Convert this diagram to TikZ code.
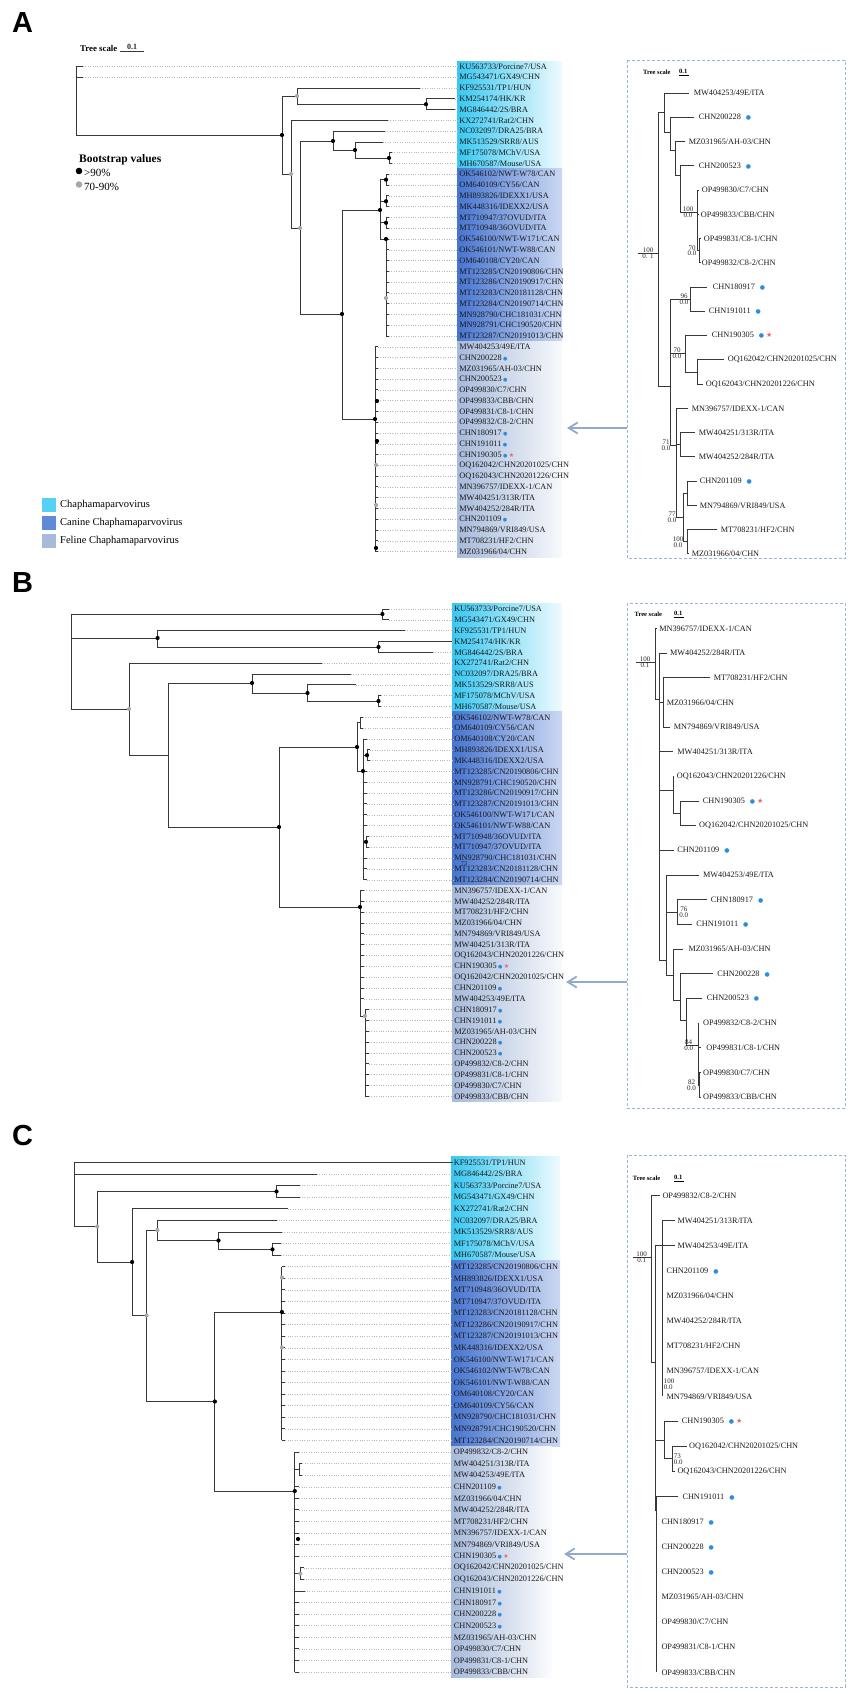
\documentclass[tikz,border=0pt]{standalone}
\usepackage{fontspec}
\setmainfont{Liberation Serif}
\setsansfont{Liberation Sans}
\newfontfamily\symbfont{DejaVu Sans}
\usepackage{tikz}
\usetikzlibrary{arrows.meta,shapes,positioning}

\definecolor{chapha}{HTML}{38C8F2}
\definecolor{canine}{HTML}{4674D0}
\definecolor{feline}{HTML}{A6BADA}
\definecolor{branchgray}{HTML}{383838}
\definecolor{bootgray}{HTML}{A8A8A8}
\definecolor{markblue}{HTML}{2C8CE0}
\definecolor{markred}{HTML}{E8666C}
\definecolor{framecol}{HTML}{9CB4D6}
\definecolor{pointcol}{HTML}{93AACC}

\tikzstyle{br} = [draw=branchgray, line width=0.9pt]
\tikzstyle{leader} = [draw=black!28, line width=0.5pt, dash pattern=on 0.9pt off 1.5pt]
\tikzstyle{lab} = [anchor=west, inner sep=0.6pt, text=black!90, font=\fontsize{8.3}{8.3}\selectfont]
\tikzstyle{ilab} = [anchor=west, inner sep=0.6pt, text=black!90, font=\fontsize{8.25}{8.25}\selectfont]
\tikzstyle{bsv} = [inner sep=0.4pt, text=black!85, font=\fontsize{7}{7}\selectfont]
\tikzstyle{frame} = [draw=framecol, line width=0.8pt, dash pattern=on 3pt off 2pt]
\tikzstyle{pointer} = [draw=pointcol, line width=1.8pt, -{Straight Barb[length=9pt,width=11pt]}]
\tikzstyle{panel} = [inner sep=0, font=\fontsize{29}{29}\sffamily\bfseries\selectfont]
\tikzstyle{scl} = [anchor=west, inner sep=0, font=\fontsize{6.5}{6.5}\bfseries\selectfont]
\tikzstyle{legtxt} = [anchor=west, inner sep=0, font=\fontsize{10.5}{10.5}\selectfont]

\newcommand{\bdot}{\,{\symbfont\fontsize{5}{5}\selectfont\textcolor{markblue}{●}}}
\newcommand{\rstar}{\,{\symbfont\fontsize{6}{6}\selectfont\textcolor{markred}{★}}}
\newcommand{\idot}{\hspace{5pt}{\symbfont\fontsize{6}{6}\selectfont\textcolor{markblue}{●}}}
\newcommand{\istar}{\hspace{2pt}{\symbfont\fontsize{7}{7}\selectfont\textcolor{markred}{★}}}
\newcommand{\bsb}[1]{\fill[black] #1 circle (2.1pt);}
\newcommand{\bsg}[1]{\fill[bootgray] #1 circle (2.1pt);}
\newcommand{\bsl}[5]{\node[bsv, anchor=south] (#1t) at (#2,#3) {#4};
  \node[bsv, anchor=north] (#1b) at (#2,#3) {#5};}

\begin{document}
\begin{tikzpicture}[x=1pt, y=-1pt,
  declare function={ra(\i)=66.5+(\i-1)*10.78; rb(\i)=609+(\i-1)*10.83;
    rc(\i)=1162.5+(\i-1)*11.58; ia(\i)=93+(\i-1)*24.26;
    ib(\i)=628.4+(\i-1)*24.67; ic(\i)=1195.6+(\i-1)*25.09;}]
  \useasboundingbox (0,0) rectangle (851,1694);

  % Panel letters
  \node[panel] (pA) at (22.5,22.5) {A};
  \node[panel] (pB) at (22.5,583) {B};
  \node[panel] (pC) at (22.5,1136) {C};

  %%%%%%%%%%%%%%%% Panel A %%%%%%%%%%%%%%%%
  % scale and legends
  \node[scl, font=\fontsize{8.8}{8.8}\bfseries\selectfont] (tsA) at (80,48) {Tree scale};
  \node[bsv, font=\fontsize{8}{8}\bfseries\selectfont, anchor=south] (tsAv) at (132,50) {0.1};
  \draw[branchgray, line width=0.9pt] (120,51) -- (144,51);
  \node[anchor=west, inner sep=0, font=\fontsize{11.5}{11.5}\bfseries\selectfont] (bsh) at (79,160) {Bootstrap values};
  \fill[black] (79,171) circle (3.3pt);
  \node[legtxt, font=\fontsize{11}{11}\selectfont] (bs1) at (84,172.5) {>90\%};
  \fill[bootgray] (79,184.5) circle (3.3pt);
  \node[legtxt, font=\fontsize{11}{11}\selectfont] (bs2) at (84,186.5) {70-90\%};
  \fill[chapha!85] (42,498) rectangle (56,512);
  \node[legtxt] (lg1) at (60,505) {Chaphamaparvovirus};
  \fill[canine!85] (42,516) rectangle (56,529.5);
  \node[legtxt] (lg2) at (60,522.7) {Canine Chaphamaparvovirus};
  \fill[feline] (42,534) rectangle (56,547.5);
  \node[legtxt] (lg3) at (60,540.7) {Feline Chaphamaparvovirus};

  % label blocks
  \shade[left color=chapha, right color=chapha!8] (457,{ra(1)-5.4}) rectangle (562,{ra(10)+5.4});
  \shade[left color=canine, right color=canine!28] (457,{ra(11)-5.4}) rectangle (562,{ra(26)+5.4});
  \shade[left color=feline, right color=feline!8] (457,{ra(27)-5.4}) rectangle (562,{ra(46)+5.4});
  \foreach \t [count=\i] in {KU563733/Porcine7/USA, MG543471/GX49/CHN, KF925531/TP1/HUN,
      KM254174/HK/KR, MG846442/2S/BRA, KX272741/Rat2/CHN, NC032097/DRA25/BRA,
      MK513529/SRR8/AUS, MF175078/MChV/USA, MH670587/Mouse/USA, OK546102/NWT-W78/CAN,
      OM640109/CY56/CAN, MH893826/IDEXX1/USA, MK448316/IDEXX2/USA, MT710947/37OVUD/ITA,
      MT710948/36OVUD/ITA, OK546100/NWT-W171/CAN, OK546101/NWT-W88/CAN, OM640108/CY20/CAN,
      MT123285/CN20190806/CHN, MT123286/CN20190917/CHN, MT123283/CN20181128/CHN,
      MT123284/CN20190714/CHN, MN928790/CHC181031/CHN, MN928791/CHC190520/CHN,
      MT123287/CN20191013/CHN, MW404253/49E/ITA, CHN200228\bdot, MZ031965/AH-03/CHN,
      CHN200523\bdot, OP499830/C7/CHN, OP499833/CBB/CHN, OP499831/C8-1/CHN,
      OP499832/C8-2/CHN, CHN180917\bdot, CHN191011\bdot, CHN190305\bdot\rstar,
      OQ162042/CHN20201025/CHN, OQ162043/CHN20201226/CHN, MN396757/IDEXX-1/CAN,
      MW404251/313R/ITA, MW404252/284R/ITA, CHN201109\bdot, MN794869/VRI849/USA,
      MT708231/HF2/CHN, MZ031966/04/CHN}
    \node[lab] (la\i) at (458.5,{ra(\i)}) {\t};
  \foreach \i/\x in {1/83,2/83,3/420,4/455,5/455,6/388,7/385,8/383,9/392,10/392}
    \draw[leader] (\x,{ra(\i)}) -- (la\i.west);
  \foreach \i in {11,...,26} \draw[leader] (389,{ra(\i)}) -- (la\i.west);
  \foreach \i in {27,...,46} \draw[leader] (378,{ra(\i)}) -- (la\i.west);

  % tree
  \draw[br] (83,{ra(1)}) -- (76,{ra(1)}) -- (76,135) -- (282,135);
  \draw[br] (76,{ra(2)}) -- (83,{ra(2)});
  \draw[br] (297,96) -- (282,96) -- (282,174) -- (291,174);
  \draw[br] (420,{ra(3)}) -| (297,104.2) -- (426,104.2);
  \draw[br] (455,{ra(4)}) -| (426,{ra(5)}) -- (455,{ra(5)});
  \draw[br] (388,{ra(6)}) -| (291,228) -- (300,228);
  \draw[br] (333,141) -- (300,141) -- (300,314) -- (342,314);
  \draw[br] (385,{ra(7)}) -| (333,150) -- (355,150);
  \draw[br] (383,{ra(8)}) -| (355,158) -- (389,158);
  \draw[br] (392,{ra(9)}) -| (389,{ra(10)}) -- (392,{ra(10)});
  \draw[br] (380,210) -| (342,419) -- (375,419);
  % canine clade
  \draw[br] (380,{(ra(11)+ra(12))/2}) -- (380,{ra(17)}) -- (386,{ra(17)}) -- (386,{ra(26)});
  \foreach \j in {11,13,15} {
    \draw[br] (380,{(ra(\j)+ra(\j+1))/2}) -- (386,{(ra(\j)+ra(\j+1))/2});
    \draw[br] (389,{ra(\j)}) -| (386,{ra(\j+1)}) -- (389,{ra(\j+1)});
    \bsb{(386,{(ra(\j)+ra(\j+1))/2})}
  }
  \foreach \j in {17,...,26} \draw[br] (386,{ra(\j)}) -- (389,{ra(\j)});
  % feline clade
  \draw[br] (375,{ra(27)}) -- (375,{ra(46)});
  \foreach \j in {27,...,46} \draw[br] (375,{ra(\j)}) -- (378,{ra(\j)});
  % bootstrap dots
  \bsb{(282,135)} \bsg{(297,96)} \bsb{(426,104.2)} \bsg{(291,174)} \bsg{(300,228)}
  \bsb{(333,141)} \bsb{(355,150)} \bsb{(389,158)} \bsb{(342,314)} \bsb{(380,210)}
  \bsb{(375,419)} \bsb{(386,{ra(17)})} \bsg{(386,298)}
  \bsb{(377,401)} \bsb{(377,441)} \bsg{(376,465)} \bsg{(376,505)} \bsb{(376,548)}

  % inset A
  \draw[frame] (627,60) rectangle (845,558.5);
  \node[scl] (tsa) at (643,72) {Tree scale};
  \node[scl] (tsav) at (679,71) {0.1};
  \draw[black, line width=0.6pt] (679,75) -- (689,75);
  \foreach \x/\t [count=\i] in {693/{MW404253/49E/ITA}, 698/{CHN200228\idot},
      688/{MZ031965/AH-03/CHN}, 698/{CHN200523\idot}, 701/{OP499830/C7/CHN},
      700/{OP499833/CBB/CHN}, 703/{OP499831/C8-1/CHN}, 701/{OP499832/C8-2/CHN},
      712/{CHN180917\idot}, 708/{CHN191011\idot}, 711/{CHN190305\idot\istar},
      727/{OQ162042/CHN20201025/CHN}, 705/{OQ162043/CHN20201226/CHN},
      691/{MN396757/IDEXX-1/CAN}, 698/{MW404251/313R/ITA}, 698/{MW404252/284R/ITA},
      699/{CHN201109\idot}, 699/{MN794869/VRI849/USA}, 720/{MT708231/HF2/CHN},
      691/{MZ031966/04/CHN}}
    \node[ilab] (sa\i) at (\x,{ia(\i)}) {\t};
  \draw[br] (638,253) -- (658,253);
  \draw[br] (664,112) -- (658,112) -- (658,386) -- (670,386);
  \draw[br] (689,{ia(1)}) -| (664,132) -- (670,132);
  \draw[br] (694,{ia(2)}) -| (670,150) -- (675,150);
  \draw[br] (685,{ia(3)}) -| (675,175) -- (680,175);
  \draw[br] (694,{ia(4)}) -| (680,212) -- (697.5,212);
  \draw[br] (699,{ia(5)}) -| (697.5,250.7) -- (699.5,250.7);
  \draw[br] (697.5,{ia(6)}) -- (699,{ia(6)});
  \draw[br] (700,{ia(7)}) -| (699.5,{ia(8)}) -- (700,{ia(8)});
  \draw[br] (707,{ia(9)}) -| (690,{ia(10)}) -- (705,{ia(10)});
  \draw[br] (690,299.2) -- (670,299.2) -- (670,445) -- (676,445);
  \draw[br] (670,353) -- (685,353);
  \draw[br] (707,{ia(11)}) -| (685,372) -- (697,372);
  \draw[br] (724,{ia(12)}) -| (697,{ia(13)}) -- (703,{ia(13)});
  \draw[br] (688,{ia(14)}) -| (676,517) -- (683,517);
  \draw[br] (676,444.8) -- (680,444.8);
  \draw[br] (695,{ia(15)}) -| (680,{ia(16)}) -- (695,{ia(16)});
  \draw[br] (687,493.3) -| (683,541.8) -- (687,541.8);
  \draw[br] (697,{ia(17)}) -| (687,{ia(18)}) -- (697,{ia(18)});
  \draw[br] (717,{ia(19)}) -| (687,{ia(20)}) -- (689,{ia(20)});
  \bsl{a1}{648}{253}{100}{0. 1}
  \bsl{a2}{688}{212}{100}{0.0}
  \bsl{a3}{692}{250.7}{70}{0.0}
  \bsl{a4}{684}{299.2}{96}{0.0}
  \bsl{a5}{677}{353}{70}{0.0}
  \bsl{a6}{666}{445}{71}{0.0}
  \bsl{a7}{672}{517}{77}{0.0}
  \bsl{a8}{678}{541.8}{100}{0.0}
  \coordinate (fa) at (627,428);
  \coordinate (ta) at (567,428);
  \draw[pointer] (fa) -- (ta);

  %%%%%%%%%%%%%%%% Panel B %%%%%%%%%%%%%%%%
  \shade[left color=chapha, right color=chapha!8] (452,{rb(1)-5.4}) rectangle (562,{rb(10)+5.4});
  \shade[left color=canine, right color=canine!28] (452,{rb(11)-5.4}) rectangle (562,{rb(26)+5.4});
  \shade[left color=feline, right color=feline!8] (452,{rb(27)-5.4}) rectangle (562,{rb(46)+5.4});
  \foreach \t [count=\i] in {KU563733/Porcine7/USA, MG543471/GX49/CHN, KF925531/TP1/HUN,
      KM254174/HK/KR, MG846442/2S/BRA, KX272741/Rat2/CHN, NC032097/DRA25/BRA,
      MK513529/SRR8/AUS, MF175078/MChV/USA, MH670587/Mouse/USA, OK546102/NWT-W78/CAN,
      OM640109/CY56/CAN, OM640108/CY20/CAN, MH893826/IDEXX1/USA, MK448316/IDEXX2/USA,
      MT123285/CN20190806/CHN, MN928791/CHC190520/CHN, MT123286/CN20190917/CHN,
      MT123287/CN20191013/CHN, OK546100/NWT-W171/CAN, OK546101/NWT-W88/CAN,
      MT710948/36OVUD/ITA, MT710947/37OVUD/ITA, MN928790/CHC181031/CHN,
      MT123283/CN20181128/CHN, MT123284/CN20190714/CHN, MN396757/IDEXX-1/CAN,
      MW404252/284R/ITA, MT708231/HF2/CHN, MZ031966/04/CHN, MN794869/VRI849/USA,
      MW404251/313R/ITA, OQ162043/CHN20201226/CHN, CHN190305\bdot\rstar,
      OQ162042/CHN20201025/CHN, CHN201109\bdot, MW404253/49E/ITA, CHN180917\bdot,
      CHN191011\bdot, MZ031965/AH-03/CHN, CHN200228\bdot, CHN200523\bdot,
      OP499832/C8-2/CHN, OP499831/C8-1/CHN, OP499830/C7/CHN, OP499833/CBB/CHN}
    \node[lab] (lb\i) at (453.5,{rb(\i)}) {\t};
  \node[bsv, font=\fontsize{6}{6}\selectfont] (stray) at (464,{rb(25)-5}) {73};
  \foreach \i/\x in {1/389,2/389,3/405,4/452,5/433,6/322,7/351,8/356,9/381.4,10/381.4,
      11/363,12/363,13/367,14/370,15/370,22/369,23/369}
    \draw[leader] (\x,{rb(\i)}) -- (lb\i.west);
  \foreach \i in {16,...,21,24,25,26} \draw[leader] (367,{rb(\i)}) -- (lb\i.west);
  \foreach \i in {27,...,37} \draw[leader] (364,{rb(\i)}) -- (lb\i.west);
  \foreach \i in {38,...,46} \draw[leader] (369,{rb(\i)}) -- (lb\i.west);

  % tree
  \draw[br] (382.4,614) -- (71,614) -- (71,709) -- (129,709);
  \draw[br] (389,{rb(1)}) -| (382.4,{rb(2)}) -- (389,{rb(2)});
  \draw[br] (71,638) -- (157.6,638);
  \draw[br] (405,{rb(3)}) -| (157.6,647) -- (378.5,647);
  \draw[br] (452,{rb(4)}) -| (378.5,{rb(5)}) -- (433,{rb(5)});
  \draw[br] (322,{rb(6)}) -| (129,755) -- (168.3,755);
  \draw[br] (252,683) -| (168.3,827) -- (279,827);
  \draw[br] (351,{rb(7)}) -| (252,693) -- (307.5,693);
  \draw[br] (356,{rb(8)}) -| (307.5,701) -- (378.5,701);
  \draw[br] (381.4,{rb(9)}) -| (378.5,{rb(10)}) -- (381.4,{rb(10)});
  \draw[br] (357,747) -| (279,907) -- (360,907);
  % canine clade
  \draw[br] (360,{(rb(11)+rb(12))/2}) -- (357,{(rb(11)+rb(12))/2}) -- (357,771) -- (363,771);
  \draw[br] (363,{rb(11)}) -| (360,{rb(12)}) -- (363,{rb(12)});
  \draw[br] (363,{rb(13)}) -- (363,{rb(26)});
  \foreach \j in {13,16,17,...,21,24,25,26} \draw[br] (363,{rb(\j)}) -- (367,{rb(\j)});
  \draw[br] (363,{(rb(14)+rb(15))/2}) -- (367,{(rb(14)+rb(15))/2});
  \draw[br] (370,{rb(14)}) -| (367,{rb(15)}) -- (370,{rb(15)});
  \draw[br] (363,{(rb(22)+rb(23))/2}) -- (366,{(rb(22)+rb(23))/2});
  \draw[br] (369,{rb(22)}) -| (366,{rb(23)}) -- (369,{rb(23)});
  % feline clade
  \draw[br] (360,{rb(27)}) -- (360,1016) -- (365,1016);
  \foreach \j in {27,...,37} \draw[br] (360,{rb(\j)}) -- (364,{rb(\j)});
  \draw[br] (365,{rb(38)}) -- (365,{rb(46)});
  \foreach \j in {38,...,46} \draw[br] (365,{rb(\j)}) -- (369,{rb(\j)});
  % bootstrap dots
  \bsb{(382.4,614)} \bsb{(157.6,638)} \bsb{(378.5,647)} \bsg{(129,709)} \bsb{(252,683)}
  \bsb{(307.5,693)} \bsb{(378.5,701)} \bsb{(279,827)} \bsb{(357,747)} \bsb{(360,907)}
  \bsb{(363,771)} \bsb{(367,{(rb(14)+rb(15))/2})} \bsb{(366,{(rb(22)+rb(23))/2})}
  \bsg{(365,1016)}

  % inset B
  \draw[frame] (627,603) rectangle (845,1108);
  \node[scl] (tsb) at (634.5,614) {Tree scale};
  \node[scl] (tsbv) at (674,613) {0.1};
  \draw[black, line width=0.6pt] (674,617) -- (684,617);
  \foreach \x/\t [count=\i] in {658.5/{MN396757/IDEXX-1/CAN}, 669.2/{MW404252/284R/ITA},
      713/{MT708231/HF2/CHN}, 666/{MZ031966/04/CHN}, 673.1/{MN794869/VRI849/USA},
      676.6/{MW404251/313R/ITA}, 676/{OQ162043/CHN20201226/CHN},
      702/{CHN190305\idot\istar}, 698.4/{OQ162042/CHN20201025/CHN},
      676.6/{CHN201109\idot}, 702.3/{MW404253/49E/ITA}, 710.1/{CHN180917\idot},
      695.5/{CHN191011\idot}, 687.7/{MZ031965/AH-03/CHN}, 716.6/{CHN200228\idot},
      706/{CHN200523\idot}, 702.3/{OP499832/C8-2/CHN}, 705.6/{OP499831/C8-1/CHN},
      702.3/{OP499830/C7/CHN}, 702.3/{OP499833/CBB/CHN}}
    \node[ilab] (sb\i) at (\x,{ib(\i)}) {\t};
  \draw[br] (636.2,662) -- (655.6,662);
  \draw[br] (657.1,{ib(1)}) -- (655.6,{ib(1)}) -- (655.6,699) -- (659.9,699);
  \draw[br] (666.9,{ib(2)}) -- (659.9,{ib(2)}) -- (659.9,960) -- (666.9,960);
  \draw[br] (710.1,{ib(3)}) -| (663.1,{ib(5)}) -- (670,{ib(5)});
  \draw[br] (659.9,{ib(4)}) -- (664.1,{ib(4)});
  \draw[br] (659.9,{ib(6)}) -- (673.1,{ib(6)});
  \draw[br] (659.9,790) -- (673.1,790);
  \draw[br] (674,{ib(7)}) -| (673.1,813) -- (680,813);
  \draw[br] (699.4,{ib(8)}) -| (680,{ib(9)}) -- (695.5,{ib(9)});
  \draw[br] (659.9,{ib(10)}) -- (674,{ib(10)});
  \draw[br] (699.4,{ib(11)}) -| (666.9,975) -- (673.1,975);
  \draw[br] (666.9,912.1) -- (677.5,912.1);
  \draw[br] (707.2,{ib(12)}) -| (677.5,{ib(13)}) -- (692.4,{ib(13)});
  \draw[br] (682.9,{ib(14)}) -| (673.1,1000) -- (680,1000);
  \draw[br] (713,{ib(15)}) -| (680,1020) -- (686.8,1020);
  \draw[br] (702.3,{ib(16)}) -| (686.8,1045) -- (698.4,1045);
  \draw[br] (699.4,{ib(17)}) -| (698.4,1085) -- (699.4,1085);
  \draw[br] (698.4,{ib(18)}) -- (701.3,{ib(18)});
  \draw[br] (701.3,{ib(19)}) -| (699.4,{ib(20)}) -- (701.3,{ib(20)});
  \bsl{b1}{645}{662}{100}{0.1}
  \bsl{b2}{683.8}{912.1}{76}{0.0}
  \bsl{b3}{688.7}{1045}{84}{0.0}
  \bsl{b4}{691.6}{1085}{82}{0.0}
  \coordinate (fb) at (627,982);
  \coordinate (tb) at (566,982);
  \draw[pointer] (fb) -- (tb);

  %%%%%%%%%%%%%%%% Panel C %%%%%%%%%%%%%%%%
  \shade[left color=chapha, right color=chapha!8] (451,{rc(1)-5.8}) rectangle (560,{rc(9)+5.8});
  \shade[left color=canine, right color=canine!28] (451,{rc(10)-5.8}) rectangle (560,{rc(25)+5.8});
  \shade[left color=feline, right color=feline!4] (451,{rc(26)-5.8}) rectangle (552,{rc(45)+5.8});
  \foreach \t [count=\i] in {KF925531/TP1/HUN, MG846442/2S/BRA, KU563733/Porcine7/USA,
      MG543471/GX49/CHN, KX272741/Rat2/CHN, NC032097/DRA25/BRA, MK513529/SRR8/AUS,
      MF175078/MChV/USA, MH670587/Mouse/USA, MT123285/CN20190806/CHN,
      MH893826/IDEXX1/USA, MT710948/36OVUD/ITA, MT710947/37OVUD/ITA,
      MT123283/CN20181128/CHN, MT123286/CN20190917/CHN, MT123287/CN20191013/CHN,
      MK448316/IDEXX2/USA, OK546100/NWT-W171/CAN, OK546102/NWT-W78/CAN,
      OK546101/NWT-W88/CAN, OM640108/CY20/CAN, OM640109/CY56/CAN,
      MN928790/CHC181031/CHN, MN928791/CHC190520/CHN, MT123284/CN20190714/CHN,
      OP499832/C8-2/CHN, MW404251/313R/ITA, MW404253/49E/ITA, CHN201109\bdot,
      MZ031966/04/CHN, MW404252/284R/ITA, MT708231/HF2/CHN, MN396757/IDEXX-1/CAN,
      MN794869/VRI849/USA, CHN190305\bdot\rstar, OQ162042/CHN20201025/CHN,
      OQ162043/CHN20201226/CHN, CHN191011\bdot, CHN180917\bdot, CHN200228\bdot,
      CHN200523\bdot, MZ031965/AH-03/CHN, OP499830/C7/CHN, OP499831/C8-1/CHN,
      OP499833/CBB/CHN}
    \node[lab] (lc\i) at (453,{rc(\i)}) {\t};
  \foreach \i/\x in {2/316.8,3/299.5,4/299.5,5/288,6/276.5,7/281.9,8/280.8,9/280.8,
      27/302.4,28/302.4,36/303.5,37/303.5,38/304.6}
    \draw[leader] (\x,{rc(\i)}) -- (lc\i.west);
  \foreach \i in {10,...,25} \draw[leader] (285.1,{rc(\i)}) -- (lc\i.west);
  \foreach \i in {26,29,30,31,32,33,34,35,39,40,41,42,43,44,45}
    \draw[leader] (299.2,{rc(\i)}) -- (lc\i.west);

  % tree
  \draw[br] (lc1.west) -- (74.8,{rc(1)}) -- (74.8,1226.5) -- (97.2,1226.5);
  \draw[br] (74.8,{rc(2)}) -- (316.8,{rc(2)});
  \draw[br] (276.5,{(rc(3)+rc(4))/2}) -| (97.2,1262) -- (132.1,1262);
  \draw[br] (299.5,{rc(3)}) -| (276.5,{rc(4)}) -- (299.5,{rc(4)});
  \draw[br] (288,{rc(5)}) -| (132.1,1315.5) -- (146.6,1315.5);
  \draw[br] (157.4,1230) -| (146.6,1401.5) -- (214.9,1401.5);
  \draw[br] (276.5,{rc(6)}) -| (157.4,1240.5) -- (218.5,1240.5);
  \draw[br] (281.9,{rc(7)}) -| (218.5,{(rc(8)+rc(9))/2}) -- (272.5,{(rc(8)+rc(9))/2});
  \draw[br] (280.8,{rc(8)}) -| (272.5,{rc(9)}) -- (280.8,{rc(9)});
  \draw[br] (281.9,1312) -| (214.9,1491) -- (294.8,1491);
  % canine clade
  \draw[br] (281.9,{rc(10)}) -- (281.9,{rc(25)});
  \foreach \j in {10,...,25} \draw[br] (281.9,{rc(\j)}) -- (285.1,{rc(\j)});
  % feline clade
  \draw[br] (294.8,{rc(26)}) -- (294.8,{rc(45)});
  \foreach \j in {26,29,30,31,32,33,34,35,39,40,41,42,43,44,45}
    \draw[br] (294.8,{rc(\j)}) -- (299.2,{rc(\j)});
  \draw[br] (294.8,{(rc(27)+rc(28))/2}) -- (299.2,{(rc(27)+rc(28))/2});
  \draw[br] (302.4,{rc(27)}) -| (299.2,{rc(28)}) -- (302.4,{rc(28)});
  \draw[br] (294.8,{(rc(36)+rc(37))/2}) -- (300.2,{(rc(36)+rc(37))/2});
  \draw[br] (303.5,{rc(36)}) -| (300.2,{rc(37)}) -- (303.5,{rc(37)});
  \draw[br] (294.8,{rc(38)}) -- (304.6,{rc(38)});
  % bootstrap dots
  \bsg{(97.2,1226.5)} \bsb{(276.5,{(rc(3)+rc(4))/2})} \bsb{(132.1,1262)} \bsg{(146.6,1315.5)}
  \bsg{(157.4,1230)} \bsb{(218.5,1240.5)} \bsb{(272.5,{(rc(8)+rc(9))/2})}
  \bsb{(214.9,1401.5)} \bsb{(281.9,1312)} \bsg{(281.9,1277.5)} \bsg{(281.9,1347.5)}
  \bsb{(294.8,1491)} \bsb{(298,1539)} \bsg{(300.2,{(rc(36)+rc(37))/2})}

  % inset C
  \draw[frame] (627.3,1155) rectangle (845,1687.3);
  \node[scl] (tsc) at (632.7,1178) {Tree scale};
  \node[scl] (tscv) at (674,1177) {0.1};
  \draw[black, line width=0.6pt] (674,1181) -- (684,1181);
  \foreach \x/\t [count=\i] in {661.7/{OP499832/C8-2/CHN}, 676.7/{MW404251/313R/ITA},
      676.7/{MW404253/49E/ITA}, 665.7/{CHN201109\idot}, 665.7/{MZ031966/04/CHN},
      665.7/{MW404252/284R/ITA}, 665.7/{MT708231/HF2/CHN}, 665.7/{MN396757/IDEXX-1/CAN},
      665.7/{MN794869/VRI849/USA}, 681/{CHN190305\idot\istar},
      688.3/{OQ162042/CHN20201025/CHN}, 676.7/{OQ162043/CHN20201226/CHN},
      681.7/{CHN191011\idot}, 660.7/{CHN180917\idot}, 660.7/{CHN200228\idot},
      660.7/{CHN200523\idot}, 660.7/{MZ031965/AH-03/CHN}, 660.7/{OP499830/C7/CHN},
      660.7/{OP499831/C8-1/CHN}, 660.7/{OP499833/CBB/CHN}}
    \node[ilab] (sc\i) at (\x,{ic(\i)}) {\t};
  \draw[br] (632.7,1257) -- (651.7,1257);
  \draw[br] (660,{ic(1)}) -- (651.7,{ic(1)}) -- (651.7,1362.4) -- (655,1362.4);
  \draw[br] (675,{ic(3)}) -- (655,{ic(3)}) -- (655,1510) -- (656.7,1510);
  \draw[br] (675,{ic(2)}) -| (662.7,{ic(9)});
  \draw[br] (678.3,{ic(10)}) -| (664.3,1458) -- (672.7,1458);
  \draw[br] (655,1440) -- (664.3,1440);
  \draw[br] (686.7,{ic(11)}) -| (672.7,{ic(12)}) -- (675,{ic(12)});
  \draw[br] (678.3,{ic(13)}) -| (656.7,{ic(20)});
  \bsl{c1}{641.7}{1257}{100}{0.1}
  \node[bsv, anchor=south west] (c2t) at (663.2,1383.8) {100};
  \node[bsv, anchor=north west] (c2b) at (663.2,1383.8) {0.0};
  \node[bsv, anchor=south west] (c3t) at (673.2,1459) {73};
  \node[bsv, anchor=north west] (c3b) at (673.2,1459) {0.0};
  \coordinate (fc) at (627.3,1554);
  \coordinate (tc) at (564,1554);
  \draw[pointer] (fc) -- (tc);
\end{tikzpicture}
\end{document}
